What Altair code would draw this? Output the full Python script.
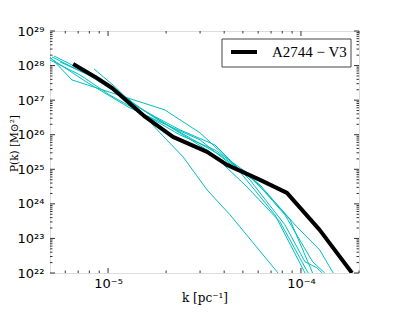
import altair as alt
import pandas as pd

# ---- data (k in pc^-1, P(k) in Msun^2) ----
black_k = [6.59e-6, 8.57e-6, 1.05e-5, 1.27e-5, 1.56e-5, 2.17e-5, 3.26e-5, 4.14e-5, 6.14e-5, 8.46e-5, 1.25e-4, 1.84e-4]
black_P = [1.11e28, 4.69e27, 2.25e27, 8.88e26, 3.27e26, 8.64e25, 3.18e25, 1.34e25, 4.94e24, 2.08e24, 1.77e23, 1.0e22]

c1_k = [5.0e-6, 6.5e-6, 1.97e-5, 3.0e-5, 3.5e-5, 4.55e-5, 5.64e-5, 7.16e-5, 9.53e-5, 1.25e-4, 1.47e-4]
c1_P = [1.77e28, 3.84e27, 5.21e26, 1.13e26, 5.07e25, 1.25e25, 4.94e24, 1.31e24, 2.16e23, 4.69e22, 1.0e22]

c2_k = [5.25e-6, 7.33e-6, 1.05e-5, 1.47e-5, 2.22e-5, 3.38e-5, 5.13e-5, 7.79e-5, 1.09e-4]
c2_P = [1.89e28, 7.46e27, 2.25e27, 5.95e26, 1.38e26, 3.18e25, 3.54e24, 3.02e23, 1.0e22]

c3_k = [5.0e-6, 7.87e-6, 1.27e-5, 1.86e-5, 3.0e-5, 4.83e-5, 7.33e-5, 1.05e-4]
c3_P = [1.66e28, 3.14e27, 6.36e26, 2.34e26, 7.08e25, 8.4e24, 4.81e23, 1.0e22]

c4_k = [8.46e-6, 1.09e-5, 1.32e-5, 1.61e-5, 2.36e-5, 3.58e-5, 5.44e-5, 8.26e-5, 1.05e-4, 1.21e-4, 1.29e-4]
c4_P = [7.98e27, 2.41e27, 8.30e26, 4.27e26, 1.38e26, 5.07e25, 4.94e24, 2.47e23, 2.11e22, 1.41e22, 1.0e22]

c5_k = [5.64e-6, 9.09e-6, 1.30e-5, 1.86e-5, 2.45e-5, 3.26e-5, 4.29e-5, 7.61e-5]
c5_P = [1.27e28, 3.84e27, 1.01e27, 1.13e26, 2.28e25, 2.54e24, 4.81e23, 1.0e22]

c6_k = [5.13e-6, 8.07e-6, 1.22e-5, 1.75e-5, 2.66e-5, 3.80e-5, 6.14e-5, 8.77e-5, 1.15e-4]
c6_P = [1.77e28, 5.01e27, 1.16e27, 3.06e26, 8.08e25, 2.61e25, 3.54e24, 3.45e23, 1.0e22]

c7_k = [5.0e-6, 7.16e-6, 1.02e-5, 1.56e-5, 2.36e-5, 3.58e-5, 5.44e-5, 8.26e-5, 1.15e-4, 1.33e-4]
c7_P = [1.45e28, 5.34e27, 1.41e27, 3.73e26, 9.87e25, 3.64e25, 6.89e24, 4.81e23, 2.11e22, 1.0e22]

legend_label = "A2744 − V3"
y_tick_labels = ["10²²", "10²³", "10²⁴", "10²⁵", "10²⁶", "10²⁷", "10²⁸", "10²⁹"]
x_tick_labels = ["10⁻⁵", "10⁻⁴"]

# ---- build tables ----
cyan_sets = [(c1_k, c1_P), (c2_k, c2_P), (c3_k, c3_P), (c4_k, c4_P),
             (c5_k, c5_P), (c6_k, c6_P), (c7_k, c7_P)]
rows = []
for i, (ks, ps) in enumerate(cyan_sets):
    for j, (k, p) in enumerate(zip(ks, ps)):
        rows.append({"run": f"c{i+1}", "order": j, "k": k, "P": p})
cyan_df = pd.DataFrame(rows)
black_df = pd.DataFrame({"k": black_k, "P": black_P, "order": range(len(black_k))})

W, H = 309, 242
xs = alt.Scale(type="log", domain=[5e-6, 2e-4])
ys = alt.Scale(type="log", domain=[1e22, 1e29])

y_major = [10.0 ** e for e in range(22, 30)]
y_minor = [m * 10.0 ** e for e in range(22, 29) for m in range(2, 10)]
x_major = [1e-5, 1e-4]
x_minor = [m * 10.0 ** e for e in (-6, -5, -4) for m in range(2, 10) if 5e-6 <= m * 10.0 ** e <= 2e-4]

tick_col = "#333"

cyan = alt.Chart(cyan_df).mark_line(color="#00bfbf", strokeWidth=1, clip=True).encode(
    x=alt.X("k:Q", scale=xs, axis=alt.Axis(
        values=x_major, labelExpr=f"{x_tick_labels}[round(log(datum.value)/LN10)+5]",
        title="k [pc⁻¹]", titleFont="DejaVu Serif", titleFontSize=12, titleFontWeight="normal",
        titleY=28, titleBaseline="alphabetic", titleColor="black",
        labelFont="DejaVu Sans", labelFontSize=13, labelPadding=4, labelColor="black",
        ticks=False, grid=False, domain=False)),
    y=alt.Y("P:Q", scale=ys, axis=alt.Axis(
        values=y_major, labelExpr=f"{y_tick_labels}[round(log(datum.value)/LN10)-22]",
        title="P(k) [M⊙²]", titleFont="DejaVu Serif", titleFontSize=10.5, titleFontWeight="normal",
        titleX=-31, titleY=112, titleBaseline="bottom", titleColor="black",
        labelFont="DejaVu Sans", labelFontSize=13, labelPadding=6, labelColor="black",
        ticks=False, grid=False, domain=False)),
    detail="run:N", order="order:Q",
)

black = alt.Chart(black_df).mark_line(color="black", strokeWidth=4, clip=True, strokeJoin="round").encode(
    x=alt.X("k:Q", scale=xs),
    y=alt.Y("P:Q", scale=ys),
    order="order:Q",
)

# ---- legend (drawn as a small layer, matplotlib style box) ----
leg_df = pd.DataFrame({"label": [legend_label]})
leg_box = alt.Chart(leg_df).mark_rect(fill="white", stroke="#444", strokeWidth=1).encode(
    x=alt.value(172), x2=alt.value(301), y=alt.value(8), y2=alt.value(36))
leg_line = alt.Chart(leg_df).mark_rule(color="black", strokeWidth=4).encode(
    x=alt.value(181), x2=alt.value(207), y=alt.value(21))
leg_text = alt.Chart(leg_df).mark_text(font="Liberation Serif", fontSize=15, color="black",
                                       align="left", baseline="middle").encode(
    x=alt.value(222), y=alt.value(21), text="label:N")

def xticks(vals, length, top):
    df = pd.DataFrame({"t": vals})
    y0, y1 = (0, length) if top else (H, H - length)
    return alt.Chart(df).mark_rule(color=tick_col, strokeWidth=1).encode(
        x=alt.X("t:Q", scale=xs), y=alt.value(y0), y2=alt.value(y1))

def yticks(vals, length, right):
    df = pd.DataFrame({"t": vals})
    x0, x1 = (W, W - length) if right else (0, length)
    return alt.Chart(df).mark_rule(color=tick_col, strokeWidth=1).encode(
        y=alt.Y("t:Q", scale=ys), x=alt.value(x0), x2=alt.value(x1))

ticks = [xticks(x_major, 5, False), xticks(x_major, 5, True),
         xticks(x_minor, 2.5, False), xticks(x_minor, 2.5, True),
         yticks(y_major, 5, False), yticks(y_major, 5, True),
         yticks(y_minor, 2.5, False), yticks(y_minor, 2.5, True)]

chart = alt.layer(cyan, black, *ticks, leg_box, leg_line, leg_text).properties(
    width=W, height=H,
    autosize=alt.AutoSizeParams(type="none"),
    padding={"left": 42, "top": 23, "right": 32, "bottom": 32},
).configure_view(stroke="#333", strokeWidth=1).configure(background="white")

chart.save("out.html", embed_options={"renderer": "svg", "actions": False})
